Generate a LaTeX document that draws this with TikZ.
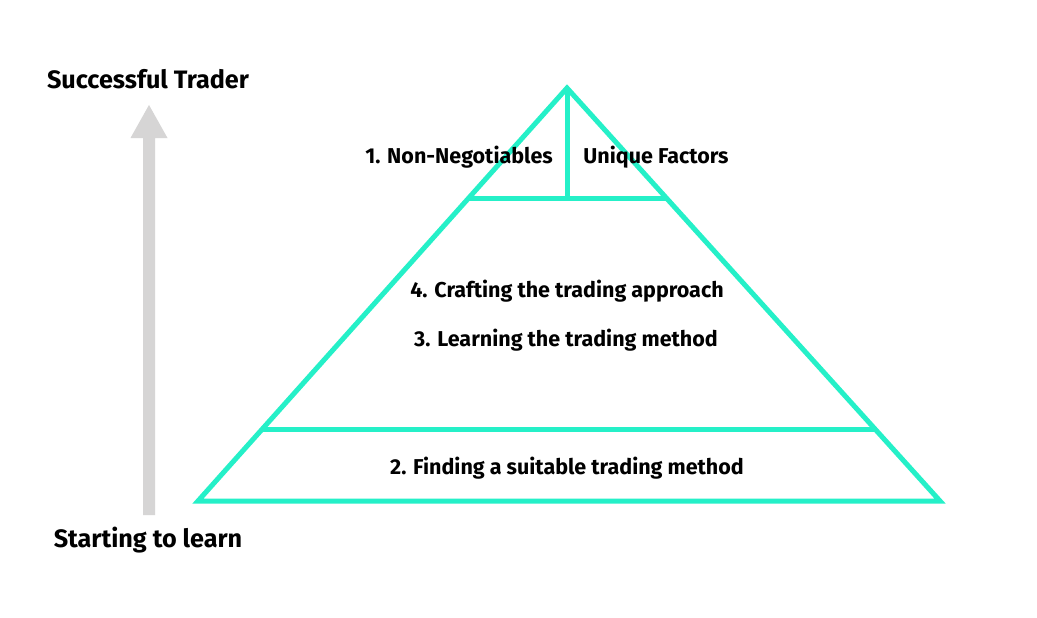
\documentclass[tikz,border=0pt]{standalone}
\usepackage{fontspec}
\setmainfont{Fira Sans}
\usetikzlibrary{calc}
\definecolor{turq}{HTML}{25F0C8}
\definecolor{arrgray}{HTML}{D6D5D5}
\tikzset{
  pyr/.style={draw=turq, line width=5pt, line join=miter},
  lbl/.style={font=\fontsize{21.5}{25}\selectfont\bfseries, text=black, inner sep=0pt},
  endlbl/.style={font=\fontsize{25.2}{29}\selectfont\bfseries, text=black, inner sep=0pt}
}
\begin{document}
\begin{tikzpicture}[x=1pt,y=-1pt]
\useasboundingbox (0,0) rectangle (1037,618);
\fill[white] (0,0) rectangle (1037,618);
% grey arrow
\coordinate (ab) at (149,515);
\coordinate (at) at (149,105);
\fill[arrgray] (143,515) -- (143,138) -- (130.5,138) -- (at) -- (167.5,138) -- (155,138) -- (155,515) -- cycle;
% pyramid
\coordinate (apex) at (567,88);
\coordinate (bl) at (198,501);
\coordinate (br) at (940,501);
\coordinate (t1l) at (468.7,198);
\coordinate (t1r) at (666.3,198);
\coordinate (t2l) at (262.3,429);
\coordinate (t2r) at (875,429);
\coordinate (mid) at (567,198);
\draw[pyr] (apex) -- (bl) -- (br) -- cycle;
\draw[pyr] (t1l) -- (t1r);
\draw[pyr] (t2l) -- (t2r);
\draw[pyr, line cap=butt] (apex) -- (mid);
% labels
\node[endlbl] (top) at (148,79) {Successful Trader};
\node[endlbl] (bot) at (148,540) {Starting to learn};
\node[lbl] (l1) at (459,157) {1. Non-Negotiables};
\node[lbl] (l1b) at (656,157) {Unique Factors};
\node[lbl] (l4) at (567,291) {4. Crafting the trading approach};
\node[lbl] (l3) at (566,340) {3. Learning the trading method};
\node[lbl] (l2) at (567,468) {2. Finding a suitable trading method};
\end{tikzpicture}
\end{document}
